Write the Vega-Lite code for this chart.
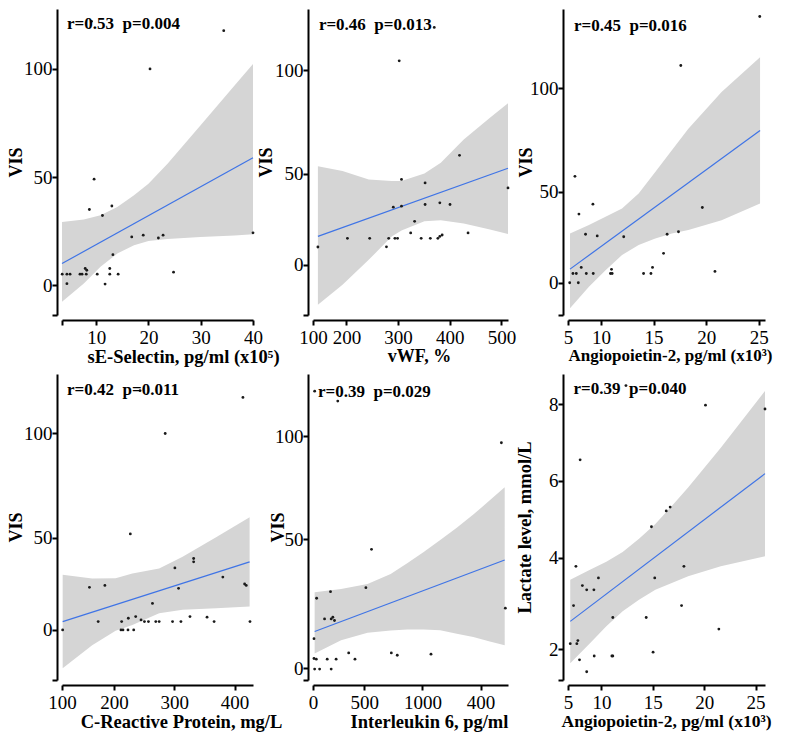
{
  "$schema": "https://vega.github.io/schema/vega-lite/v6.json",
  "padding": {"left": 7, "top": 9, "right": 5, "bottom": 5},
  "config": {
    "font": "Liberation Serif",
    "view": {"stroke": null},
    "axis": {"domainColor": "black", "domainWidth": 2, "tickColor": "black", "tickWidth": 2, "tickSize": 5, "labelFont": "Liberation Serif", "labelFontSize": 19, "labelColor": "black", "titleFont": "Liberation Serif", "titleFontWeight": "bold", "titleColor": "black", "grid": false, "offset": 5, "labelFlush": false, "labelOverlap": false, "labelBound": false},
    "axisX": {"labelPadding": 3, "titlePadding": 0},
    "axisY": {"labelPadding": 0}
  },
  "datasets": {
    "pts": [
      {"panel":1,"x":34.4,"y":117.7},{"panel":1,"x":9.1,"y":122},{"panel":1,"x":20.3,"y":100},{"panel":1,"x":9.6,"y":49},{"panel":1,"x":8.7,"y":35},{"panel":1,"x":13.0,"y":36.6},{"panel":1,"x":11.2,"y":32.2},{"panel":1,"x":16.8,"y":22.3},{"panel":1,"x":19.0,"y":23.1},{"panel":1,"x":21.9,"y":21.8},{"panel":1,"x":22.8,"y":23.1},{"panel":1,"x":40,"y":24.2},{"panel":1,"x":13.2,"y":14.1},{"panel":1,"x":24.8,"y":6.0},{"panel":1,"x":7.9,"y":7.7},{"panel":1,"x":8.2,"y":6.9},{"panel":1,"x":12.6,"y":7.7},{"panel":1,"x":3.5,"y":5.1},{"panel":1,"x":4.4,"y":5.1},{"panel":1,"x":5.0,"y":5.1},{"panel":1,"x":6.9,"y":5.1},{"panel":1,"x":7.3,"y":5.1},{"panel":1,"x":8.1,"y":5.1},{"panel":1,"x":10.2,"y":5.1},{"panel":1,"x":12.6,"y":5.1},{"panel":1,"x":14.2,"y":5.1},{"panel":1,"x":4.4,"y":0.7},{"panel":1,"x":11.7,"y":0.5},
      {"panel":2,"x":418.8,"y":58.9},{"panel":2,"x":306.5,"y":47.3},{"panel":2,"x":352.2,"y":45.6},{"panel":2,"x":290.7,"y":33.9},{"panel":2,"x":306.5,"y":34.4},{"panel":2,"x":352.2,"y":35.2},{"panel":2,"x":380.7,"y":36.0},{"panel":2,"x":400.4,"y":35.2},{"panel":2,"x":331.9,"y":27.1},{"panel":2,"x":324.3,"y":21.5},{"panel":2,"x":435.3,"y":21.5},{"panel":2,"x":144.8,"y":14.7},{"panel":2,"x":201.9,"y":18.9},{"panel":2,"x":245.0,"y":18.9},{"panel":2,"x":281.8,"y":18.9},{"panel":2,"x":293.8,"y":18.9},{"panel":2,"x":298.9,"y":18.9},{"panel":2,"x":277.4,"y":14.8},{"panel":2,"x":344.6,"y":18.9},{"panel":2,"x":362.3,"y":18.9},{"panel":2,"x":376.9,"y":18.9},{"panel":2,"x":380.7,"y":19.8},{"panel":2,"x":385.2,"y":20.5},{"panel":2,"x":302.1,"y":104.5},{"panel":2,"x":512.6,"y":43.2},{"panel":2,"x":369.9,"y":120.6},
      {"panel":3,"x":7.90,"y":39.3},{"panel":3,"x":9.23,"y":44.1},{"panel":3,"x":8.53,"y":29.6},{"panel":3,"x":9.64,"y":28.8},{"panel":3,"x":12.16,"y":28.4},{"panel":3,"x":16.29,"y":29.6},{"panel":3,"x":17.37,"y":30.8},{"panel":3,"x":19.64,"y":42.5},{"panel":3,"x":15.95,"y":20.4},{"panel":3,"x":8.12,"y":13.6},{"panel":3,"x":7.33,"y":10.7},{"panel":3,"x":7.65,"y":10.7},{"panel":3,"x":8.60,"y":10.7},{"panel":3,"x":9.26,"y":10.7},{"panel":3,"x":10.90,"y":10.7},{"panel":3,"x":11.06,"y":10.7},{"panel":3,"x":11.0,"y":12.7},{"panel":3,"x":14.05,"y":10.7},{"panel":3,"x":14.75,"y":10.7},{"panel":3,"x":14.9,"y":13.6},{"panel":3,"x":20.84,"y":11.7},{"panel":3,"x":7.02,"y":6.25},{"panel":3,"x":7.84,"y":6.25},{"panel":3,"x":25.1,"y":134.5},{"panel":3,"x":17.59,"y":110.9},{"panel":3,"x":7.52,"y":57.5},
      {"panel":4,"x":159.4,"y":26.3},{"panel":4,"x":185.0,"y":27.2},{"panel":4,"x":307.2,"y":25.8},{"panel":4,"x":416.7,"y":27.9},{"panel":4,"x":419.4,"y":27.2},{"panel":4,"x":263.9,"y":18.6},{"panel":4,"x":173.9,"y":9.9},{"panel":4,"x":212.8,"y":9.9},{"panel":4,"x":223.9,"y":11.5},{"panel":4,"x":236.1,"y":12.3},{"panel":4,"x":245.0,"y":10.7},{"panel":4,"x":250.6,"y":9.9},{"panel":4,"x":257.2,"y":9.9},{"panel":4,"x":269.4,"y":9.9},{"panel":4,"x":275.0,"y":9.9},{"panel":4,"x":297.2,"y":9.9},{"panel":4,"x":311.1,"y":9.9},{"panel":4,"x":326.1,"y":12.3},{"panel":4,"x":354.4,"y":12.0},{"panel":4,"x":366.1,"y":9.9},{"panel":4,"x":425.6,"y":9.9},{"panel":4,"x":115.0,"y":5.9},{"panel":4,"x":211.7,"y":5.9},{"panel":4,"x":215.0,"y":5.9},{"panel":4,"x":223.3,"y":5.9},{"panel":4,"x":232.8,"y":5.9},{"panel":4,"x":413.9,"y":117.3},{"panel":4,"x":285,"y":100},{"panel":4,"x":227.2,"y":51.9},{"panel":4,"x":332.2,"y":40.1},{"panel":4,"x":332.2,"y":38.5},{"panel":4,"x":301.1,"y":35.6},{"panel":4,"x":380.6,"y":31.2},{"panel":4,"x":243.3,"y":120.5},
      {"panel":5,"x":90.9,"y":21.5},{"panel":5,"x":210.2,"y":24.7},{"panel":5,"x":514.2,"y":26.6},{"panel":5,"x":159.1,"y":11.5},{"panel":5,"x":215.9,"y":11.5},{"panel":5,"x":230.1,"y":12.3},{"panel":5,"x":244.3,"y":10.7},{"panel":5,"x":1713,"y":16.7},{"panel":5,"x":68.2,"y":1.9},{"panel":5,"x":68.2,"y":-7.7},{"panel":5,"x":88,"y":-8.0},{"panel":5,"x":181.8,"y":-8.0},{"panel":5,"x":258.5,"y":-8.0},{"panel":5,"x":366.5,"y":-5.0},{"panel":5,"x":420.5,"y":-8.0},{"panel":5,"x":733,"y":-5.0},{"panel":5,"x":784,"y":-6.1},{"panel":5,"x":1073.9,"y":-5.6},{"panel":5,"x":73.9,"y":-12.8},{"panel":5,"x":116.5,"y":-12.8},{"panel":5,"x":215.9,"y":-12.8},{"panel":5,"x":562.5,"y":45.2},{"panel":5,"x":1679,"y":96.8},{"panel":5,"x":74,"y":121.8},{"panel":5,"x":272.7,"y":117.0},
      {"panel":6,"x":7.52,"y":3.78},{"panel":6,"x":18.03,"y":3.78},{"panel":6,"x":9.71,"y":3.48},{"panel":6,"x":15.19,"y":3.48},{"panel":6,"x":8.15,"y":3.28},{"panel":6,"x":8.57,"y":3.17},{"panel":6,"x":9.27,"y":3.17},{"panel":6,"x":7.29,"y":2.76},{"panel":6,"x":17.80,"y":2.76},{"panel":6,"x":11.11,"y":2.45},{"panel":6,"x":14.36,"y":2.45},{"panel":6,"x":21.43,"y":2.15},{"panel":6,"x":6.97,"y":1.77},{"panel":6,"x":7.61,"y":1.77},{"panel":6,"x":7.71,"y":1.85},{"panel":6,"x":9.30,"y":1.45},{"panel":6,"x":11.02,"y":1.45},{"panel":6,"x":11.11,"y":1.45},{"panel":6,"x":15.03,"y":1.55},{"panel":6,"x":7.87,"y":1.35},{"panel":6,"x":8.57,"y":1.04},{"panel":6,"x":20.13,"y":7.97},{"panel":6,"x":25.92,"y":7.87},{"panel":6,"x":7.93,"y":6.55},{"panel":6,"x":16.31,"y":5.22},{"panel":6,"x":16.69,"y":5.32},{"panel":6,"x":14.87,"y":4.81},{"panel":6,"x":12.39,"y":8.48}
    ],
    "band": [
      {"panel":1,"x":3.46,"y":-7.69,"y2":29.23},{"panel":1,"x":7.63,"y":0.77,"y2":30.31},{"panel":1,"x":10.83,"y":8.46,"y2":32.31},{"panel":1,"x":14.04,"y":14.62,"y2":36.15},{"panel":1,"x":17.24,"y":18.46,"y2":41.54},{"panel":1,"x":20.0,"y":20.46,"y2":46.92},{"panel":1,"x":23.65,"y":21.38,"y2":56.15},{"panel":1,"x":29.94,"y":22.31,"y2":73.85},{"panel":1,"x":36.47,"y":22.92,"y2":92.31},{"panel":1,"x":40.0,"y":23.54,"y2":102.31},
      {"panel":2,"x":144.8,"y":-13.2,"y2":53.7},{"panel":2,"x":192.4,"y":-3.5,"y2":51.3},{"panel":2,"x":243.1,"y":8.5,"y2":47.3},{"panel":2,"x":287.5,"y":19.8,"y2":46.5},{"panel":2,"x":306.5,"y":22.6,"y2":46.5},{"panel":2,"x":350.9,"y":27.1,"y2":50.2},{"panel":2,"x":382.6,"y":27.6,"y2":55.3},{"panel":2,"x":427.0,"y":26.0,"y2":66.6},{"panel":2,"x":477.7,"y":23.1,"y2":77.1},{"panel":2,"x":512.6,"y":21.0,"y2":84.0},
      {"panel":3,"x":7.05,"y":-6.1,"y2":30.0},{"panel":3,"x":8.85,"y":4.3,"y2":34.0},{"panel":3,"x":10.43,"y":12.3,"y2":38.0},{"panel":3,"x":12.0,"y":19.6,"y2":42.0},{"panel":3,"x":13.58,"y":24.4,"y2":49.2},{"panel":3,"x":15.16,"y":27.6,"y2":59.6},{"panel":3,"x":16.74,"y":30.0,"y2":70.0},{"panel":3,"x":18.31,"y":31.6,"y2":80.4},{"panel":3,"x":21.47,"y":36.4,"y2":98.1},{"panel":3,"x":25.13,"y":44.4,"y2":114.9},
      {"panel":4,"x":115.0,"y":-12.5,"y2":32.3},{"panel":4,"x":163.9,"y":-1.5,"y2":30.5},{"panel":4,"x":202.8,"y":5.5,"y2":30.7},{"panel":4,"x":230.6,"y":8.3,"y2":32.9},{"panel":4,"x":275.0,"y":13.9,"y2":35.3},{"panel":4,"x":313.9,"y":15.5,"y2":40.9},{"panel":4,"x":369.4,"y":16.3,"y2":50.3},{"panel":4,"x":425.0,"y":17.1,"y2":59.9},
      {"panel":5,"x":73.9,"y":-5.3,"y2":24.4},{"panel":5,"x":301.1,"y":1.1,"y2":26.0},{"panel":5,"x":528.4,"y":4.8,"y2":28.4},{"panel":5,"x":727.3,"y":5.9,"y2":33.2},{"panel":5,"x":869.3,"y":6.4,"y2":38.5},{"panel":5,"x":1011.4,"y":6.4,"y2":43.9},{"panel":5,"x":1153.4,"y":6.0,"y2":49.7},{"panel":5,"x":1295.5,"y":4.3,"y2":55.6},{"panel":5,"x":1437.5,"y":2.7,"y2":62.0},{"panel":5,"x":1579.5,"y":0.6,"y2":68.9},{"panel":5,"x":1707.4,"y":-1.3,"y2":75.2},
      {"panel":6,"x":6.97,"y":1.26,"y2":3.43},{"panel":6,"x":8.89,"y":1.78,"y2":3.69},{"panel":6,"x":10.48,"y":2.22,"y2":3.90},{"panel":6,"x":12.07,"y":2.61,"y2":4.15},{"panel":6,"x":13.66,"y":2.91,"y2":4.50},{"panel":6,"x":15.25,"y":3.17,"y2":4.88},{"panel":6,"x":16.85,"y":3.35,"y2":5.35},{"panel":6,"x":18.44,"y":3.52,"y2":5.83},{"panel":6,"x":21.62,"y":3.78,"y2":6.86},{"panel":6,"x":25.92,"y":4.04,"y2":8.34}
    ],
    "fit": [
      {"panel":1,"x":3.46,"y":10.0},{"panel":1,"x":40.0,"y":58.9},
      {"panel":2,"x":144.8,"y":19.8},{"panel":2,"x":512.6,"y":52.7},
      {"panel":3,"x":7.05,"y":12.8},{"panel":3,"x":25.13,"y":79.6},
      {"panel":4,"x":115.0,"y":9.9},{"panel":4,"x":425.0,"y":38.5},
      {"panel":5,"x":73.9,"y":5.4},{"panel":5,"x":1707.4,"y":40.0},
      {"panel":6,"x":6.97,"y":2.35},{"panel":6,"x":25.92,"y":6.19}
    ],
    "ann": [
      {"panel":1,"x":4.42,"y":118.5,"label":"r=0.53\u00a0\u00a0p=0.004"},
      {"panel":2,"x":146.7,"y":119.5,"label":"r=0.46\u00a0\u00a0p=0.013"},
      {"panel":3,"x":7.43,"y":127.7,"label":"r=0.45\u00a0\u00a0p=0.016"},
      {"panel":4,"x":122.2,"y":118.6,"label":"r=0.42\u00a0\u00a0p=0.011"},
      {"panel":5,"x":102.3,"y":119.2,"label":"r=0.39\u00a0\u00a0p=0.029"},
      {"panel":6,"x":7.29,"y":8.26,"label":"r=0.39\u00a0\u00a0p=0.040"}
    ]
  },
  "columns": 3,
  "bounds": "flush",
  "spacing": {"row": 59, "column": 60},
  "concat": [
    {
      "width": 191, "height": 306,
      "encoding": {
        "x": {"field": "x", "type": "quantitative", "scale": {"domain": [3.46, 40], "nice": false, "zero": false}, "axis": {"title": "sE-Selectin, pg/ml (x10⁵)", "values": [3.46, 10, 20, 30, 40], "labelExpr": "datum.value < 5 ? '' : format(datum.value, 'd')", "labelFontSize": 19, "titleFontSize": 18.5, "titleX": 121}},
        "y": {"field": "y", "type": "quantitative", "scale": {"domain": [-13.8, 127.7], "nice": false, "zero": false}, "axis": {"title": "VIS", "values": [-13.8, 0, 50, 100], "labelExpr": "datum.value < -1 ? '' : format(datum.value, 'd')", "labelFontSize": 19, "titleFontSize": 18, "titlePadding": -1.5}}
      },
      "layer": [
        {"data": {"name": "band"}, "transform": [{"filter": "datum.panel == 1"}], "mark": {"type": "area", "color": "#d5d5d5"}, "encoding": {"y2": {"field": "y2"}}},
        {"data": {"name": "fit"}, "transform": [{"filter": "datum.panel == 1"}], "mark": {"type": "line", "color": "#3f74e6", "strokeWidth": 1.2}, "encoding": {}},
        {"data": {"name": "pts"}, "transform": [{"filter": "datum.panel == 1"}], "mark": {"type": "circle", "size": 8, "color": "#1a1a1a", "opacity": 1}},
        {"data": {"name": "ann"}, "transform": [{"filter": "datum.panel == 1"}], "mark": {"type": "text", "align": "left", "baseline": "alphabetic", "font": "Liberation Serif", "fontWeight": "bold", "fontSize": 17, "color": "black"}, "encoding": {"text": {"field": "label"}}}
      ]
    },
    {
      "width": 195, "height": 306,
      "encoding": {
        "x": {"field": "x", "type": "quantitative", "scale": {"domain": [135.3, 512.6], "nice": false, "zero": false}, "axis": {"title": "vWF, %", "values": [135.3, 200, 300, 400, 500], "labelExpr": "datum.value < 150 ? '100' : format(datum.value, 'd')", "labelFontSize": 19, "titleFontSize": 18, "titleX": 106}},
        "y": {"field": "y", "type": "quantitative", "scale": {"domain": [-18.1, 129.5], "nice": false, "zero": false}, "axis": {"title": "VIS", "values": [-18.1, 6.13, 50, 100], "labelExpr": "datum.value < 0 ? '' : datum.value < 10 ? '0' : format(datum.value, 'd')", "labelFontSize": 19, "titleFontSize": 18, "titlePadding": -1}}
      },
      "layer": [
        {"data": {"name": "band"}, "transform": [{"filter": "datum.panel == 2"}], "mark": {"type": "area", "color": "#d5d5d5"}, "encoding": {"y2": {"field": "y2"}}},
        {"data": {"name": "fit"}, "transform": [{"filter": "datum.panel == 2"}], "mark": {"type": "line", "color": "#3f74e6", "strokeWidth": 1.2}, "encoding": {}},
        {"data": {"name": "pts"}, "transform": [{"filter": "datum.panel == 2"}], "mark": {"type": "circle", "size": 8, "color": "#1a1a1a", "opacity": 1}},
        {"data": {"name": "ann"}, "transform": [{"filter": "datum.panel == 2"}], "mark": {"type": "text", "align": "left", "baseline": "alphabetic", "font": "Liberation Serif", "fontWeight": "bold", "fontSize": 17, "color": "black"}, "encoding": {"text": {"field": "label"}}}
      ]
    },
    {
      "width": 197, "height": 306,
      "encoding": {
        "x": {"field": "x", "type": "quantitative", "scale": {"domain": [6.86, 25.6], "nice": false, "zero": false}, "axis": {"title": "Angiopoietin-2, pg/ml (x10³)", "values": [6.86, 10, 15, 20, 25], "labelExpr": "datum.value < 7 ? '5' : format(datum.value, 'd')", "labelFontSize": 19, "titleFontSize": 17, "titleX": 102}},
        "y": {"field": "y", "type": "quantitative", "scale": {"domain": [-9.3, 138.1], "nice": false, "zero": false}, "axis": {"title": "VIS", "values": [-9.3, 6.25, 50, 100], "labelExpr": "datum.value < 0 ? '' : datum.value < 10 ? '0' : format(datum.value, 'd')", "labelFontSize": 19, "titleFontSize": 18, "titlePadding": -5.5}}
      },
      "layer": [
        {"data": {"name": "band"}, "transform": [{"filter": "datum.panel == 3"}], "mark": {"type": "area", "color": "#d5d5d5"}, "encoding": {"y2": {"field": "y2"}}},
        {"data": {"name": "fit"}, "transform": [{"filter": "datum.panel == 3"}], "mark": {"type": "line", "color": "#3f74e6", "strokeWidth": 1.2}, "encoding": {}},
        {"data": {"name": "pts"}, "transform": [{"filter": "datum.panel == 3"}], "mark": {"type": "circle", "size": 8, "color": "#1a1a1a", "opacity": 1}},
        {"data": {"name": "ann"}, "transform": [{"filter": "datum.panel == 3"}], "mark": {"type": "text", "align": "left", "baseline": "alphabetic", "font": "Liberation Serif", "fontWeight": "bold", "fontSize": 17, "color": "black"}, "encoding": {"text": {"field": "label"}}}
      ]
    },
    {
      "width": 191, "height": 306,
      "encoding": {
        "x": {"field": "x", "type": "quantitative", "scale": {"domain": [113.9, 430.6], "nice": false, "zero": false}, "axis": {"title": "C-Reactive Protein, mg/L", "values": [113.9, 200, 300, 400], "labelExpr": "datum.value < 150 ? '100' : format(datum.value, 'd')", "labelFontSize": 19, "titleFontSize": 18.5, "titleX": 119}},
        "y": {"field": "y", "type": "quantitative", "scale": {"domain": [-18.1, 128.5], "nice": false, "zero": false}, "axis": {"title": "VIS", "values": [-18.1, 5.93, 50, 100], "labelExpr": "datum.value < 0 ? '' : datum.value < 10 ? '0' : format(datum.value, 'd')", "labelFontSize": 19, "titleFontSize": 18, "titlePadding": -1.5}}
      },
      "layer": [
        {"data": {"name": "band"}, "transform": [{"filter": "datum.panel == 4"}], "mark": {"type": "area", "color": "#d5d5d5"}, "encoding": {"y2": {"field": "y2"}}},
        {"data": {"name": "fit"}, "transform": [{"filter": "datum.panel == 4"}], "mark": {"type": "line", "color": "#3f74e6", "strokeWidth": 1.2}, "encoding": {}},
        {"data": {"name": "pts"}, "transform": [{"filter": "datum.panel == 4"}], "mark": {"type": "circle", "size": 8, "color": "#1a1a1a", "opacity": 1}},
        {"data": {"name": "ann"}, "transform": [{"filter": "datum.panel == 4"}], "mark": {"type": "text", "align": "left", "baseline": "alphabetic", "font": "Liberation Serif", "fontWeight": "bold", "fontSize": 17, "color": "black"}, "encoding": {"text": {"field": "label"}}}
      ]
    },
    {
      "width": 195, "height": 306,
      "encoding": {
        "x": {"field": "x", "type": "quantitative", "scale": {"domain": [59.7, 1735.8], "nice": false, "zero": false}, "axis": {"title": "Interleukin 6, pg/ml", "values": [59.7, 500, 1000, 1500], "labelExpr": "datum.value < 100 ? '0' : datum.value > 1200 ? '400' : format(datum.value, 'd')", "labelFontSize": 19, "titleFontSize": 18.5, "titleX": 116}},
        "y": {"field": "y", "type": "quantitative", "scale": {"domain": [-18.1, 130.1], "nice": false, "zero": false}, "axis": {"title": "VIS", "values": [-18.1, -12.5, 50, 100], "labelExpr": "datum.value < -15 ? '' : datum.value < 10 ? '0' : format(datum.value, 'd')", "labelFontSize": 19, "titleFontSize": 18, "titlePadding": -12.5}}
      },
      "layer": [
        {"data": {"name": "band"}, "transform": [{"filter": "datum.panel == 5"}], "mark": {"type": "area", "color": "#d5d5d5"}, "encoding": {"y2": {"field": "y2"}}},
        {"data": {"name": "fit"}, "transform": [{"filter": "datum.panel == 5"}], "mark": {"type": "line", "color": "#3f74e6", "strokeWidth": 1.2}, "encoding": {}},
        {"data": {"name": "pts"}, "transform": [{"filter": "datum.panel == 5"}], "mark": {"type": "circle", "size": 8, "color": "#1a1a1a", "opacity": 1}},
        {"data": {"name": "ann"}, "transform": [{"filter": "datum.panel == 5"}], "mark": {"type": "text", "align": "left", "baseline": "alphabetic", "font": "Liberation Serif", "fontWeight": "bold", "fontSize": 17, "color": "black"}, "encoding": {"text": {"field": "label"}}}
      ]
    },
    {
      "width": 197, "height": 306,
      "encoding": {
        "x": {"field": "x", "type": "quantitative", "scale": {"domain": [6.75, 25.92], "nice": false, "zero": false}, "axis": {"title": "Angiopoietin-2, pg/ml (x10³)", "values": [6.75, 10, 15, 20, 25], "labelExpr": "datum.value < 7 ? '5' : format(datum.value, 'd')", "labelFontSize": 19, "titleFontSize": 17.5, "titleX": 98}},
        "y": {"field": "y", "type": "quantitative", "scale": {"domain": [0.826, 8.78], "nice": false, "zero": false}, "axis": {"title": "Lactate level, mmol/L", "values": [0.826, 1.626, 4, 6, 8], "labelExpr": "datum.value < 1 ? '' : datum.value < 2 ? '2' : format(datum.value, 'd')", "labelFontSize": 19, "titleFontSize": 18.5, "titlePadding": 14}}
      },
      "layer": [
        {"data": {"name": "band"}, "transform": [{"filter": "datum.panel == 6"}], "mark": {"type": "area", "color": "#d5d5d5"}, "encoding": {"y2": {"field": "y2"}}},
        {"data": {"name": "fit"}, "transform": [{"filter": "datum.panel == 6"}], "mark": {"type": "line", "color": "#3f74e6", "strokeWidth": 1.2}, "encoding": {}},
        {"data": {"name": "pts"}, "transform": [{"filter": "datum.panel == 6"}], "mark": {"type": "circle", "size": 8, "color": "#1a1a1a", "opacity": 1}},
        {"data": {"name": "ann"}, "transform": [{"filter": "datum.panel == 6"}], "mark": {"type": "text", "align": "left", "baseline": "alphabetic", "font": "Liberation Serif", "fontWeight": "bold", "fontSize": 17, "color": "black"}, "encoding": {"text": {"field": "label"}}}
      ]
    }
  ]
}
